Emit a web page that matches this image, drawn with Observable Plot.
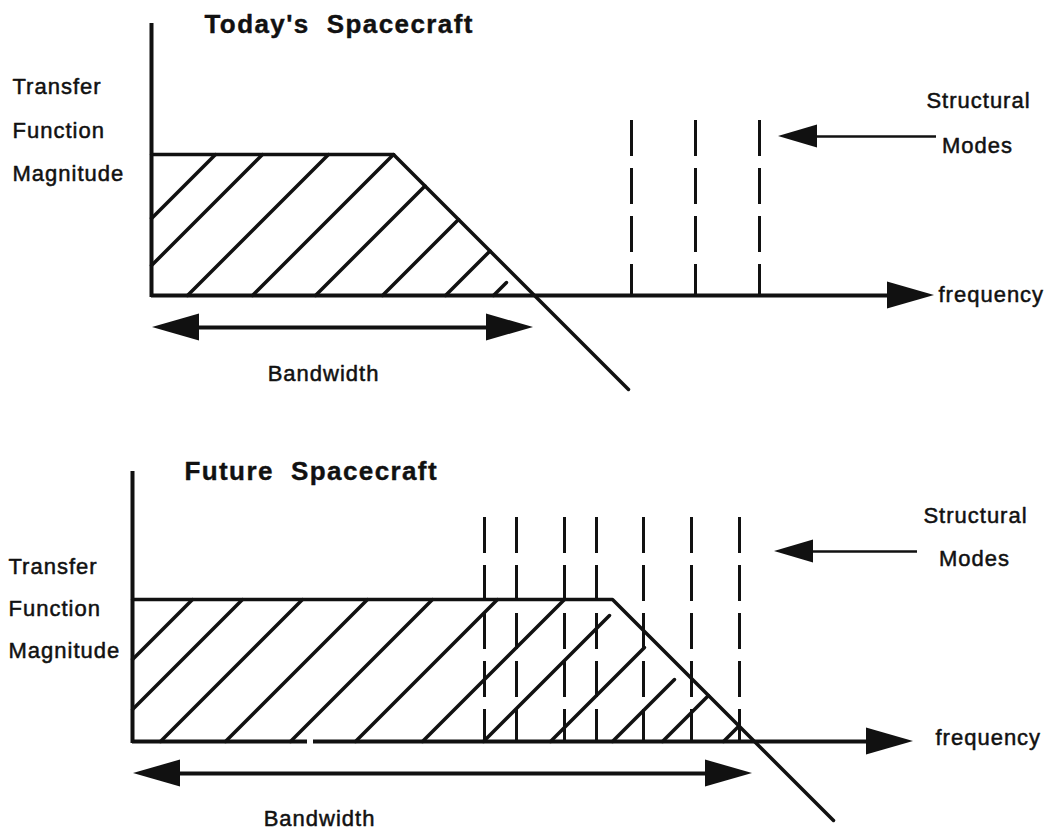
<!DOCTYPE html>
<html>
<head>
<meta charset="utf-8">
<script src="https://cdn.jsdelivr.net/npm/d3@7"></script>
<script src="https://cdn.jsdelivr.net/npm/@observablehq/plot@0.6"></script>
<style>
  body { margin: 0; background: #fff; }
  #chart svg { display: block; }
  #chart svg text { letter-spacing: 1px; }
  #chart svg g[font-weight="bold"] text { letter-spacing: 1.4px; }
</style>
</head>
<body>
<div id="chart"></div>
<script>
// ---- data (frequency / magnitude in diagram units, origin at the axes' corner) ----
const panelTitles = ["Today's\u00a0\u00a0Spacecraft", "Future\u00a0\u00a0Spacecraft"];
const yLabelLines = ["Transfer", "Function", "Magnitude"];
const modesLabelLines = ["Structural", "Modes"];
const xLabel = "frequency";
const bandLabel = "Bandwidth";

const plateauLevel = [141, 142];            // flat pass-band magnitude
const cornerFreq = [242, 480];              // start of roll-off
const rollOffEnd = [[477, -94], [701, -79]];// end of the roll-off line
const modeFreqs = [[480, 544, 608], [352, 384, 432, 464, 511, 559, 607]];
const modeTop = [175, 224];
const axisTop = [272, 270];
const axisEnd = [783, 781];                 // frequency arrow tip
const bandwidthRange = [[1, 382], [1, 620]];
const bandwidthLevel = [-32, -32];
// hatch lines: frequency where each 45° line meets the frequency axis
const hatchStarts = [
  [-77, -30, 36, 101, 164, 231, 294, 342],
  [-82, -32, 28, 93, 158, 223, 290, 351, 418, 480, 530, 591]
];
// hatch lines stopping before the boundary: start -> magnitude where they stop
const hatchStops = [{342: 13}, {351: 126, 418: 94, 480: 62}];
const axisGaps = [[], [[175, 181]]];
const modesArrow = [[627, 159, 785], [642, 190, 785]]; // tip f, level m, tail f

// ---- layout ----
const W = 1054;
const layouts = [
  {h: 417, ox: 151, oy: 295,
   title: [53, 263], yLab: [-139, [202, 158, 115]], modes: [[827, 188], [826, 143]],
   freq: [787, -6], band: [172, -85]},
  {h: 417, ox: 132, oy: 324,
   title: [52, 262], yLab: [-124, [168, 126, 84]], modes: [[843, 219], [842, 176]],
   freq: [803, -3], band: [187, -84]}
];
const ink = "#111";
const headLen = 47, headHalf = 13.5, smallHeadLen = 39, smallHeadHalf = 11.5;

function tri(id, tip, level, dir, len, half) {
  // dir = +1 points right, -1 points left
  return [
    {id, f: tip - dir * len, lo: level - half, hi: level + half},
    {id, f: tip, lo: level, hi: level}
  ];
}

function panel(i) {
  const L = layouts[i];
  const P = plateauLevel[i], C = cornerFreq[i];
  const outline = [{f: 0, m: P}, {f: C, m: P}, {f: rollOffEnd[i][0], m: rollOffEnd[i][1]}];
  const hatch = hatchStarts[i].flatMap((c, k) => {
    const m0 = Math.max(0, -c);
    let m1 = Math.min(P, (C + P - c) / 2);
    if (hatchStops[i][c] != null) m1 = Math.min(m1, hatchStops[i][c]);
    return [{k, f: c + m0, m: m0}, {k, f: c + m1, m: m1}];
  });
  // frequency axis segments (with scan gaps)
  const base = axisEnd[i] - headLen + 2;
  const segs = [];
  let start = 0;
  for (const [a, b] of axisGaps[i]) { segs.push({a: start, b: a}); start = b; }
  segs.push({a: start, b: base});

  const [bw0, bw1] = bandwidthRange[i];
  const bl = bandwidthLevel[i];
  const heads = [
    ...tri("ax", axisEnd[i], 0, 1, headLen, headHalf),
    ...tri("bl", bw0, bl, -1, headLen, headHalf),
    ...tri("br", bw1, bl, 1, headLen, headHalf),
    ...tri("sm", modesArrow[i][0], modesArrow[i][1], -1, smallHeadLen, smallHeadHalf)
  ];
  const yLab = yLabelLines.map((t, j) => ({t, f: L.yLab[0], m: L.yLab[1][j]}));
  const modesLab = modesLabelLines.map((t, j) => ({t, f: L.modes[j][0], m: L.modes[j][1]}));
  const txt = {lineAnchor: "bottom", fontSize: 22, fill: ink, stroke: ink, strokeWidth: 0.5};

  return Plot.plot({
    width: W, height: L.h, margin: 0,
    x: {domain: [-L.ox, W - L.ox], range: [0, W], axis: null},
    y: {domain: [L.oy - L.h, L.oy], range: [L.h, 0], axis: null},
    style: {fontFamily: "'Liberation Sans', Arial, Helvetica, sans-serif", background: "#fff", color: ink},
    marks: [
      Plot.line(hatch, {x: "f", y: "m", z: "k", stroke: ink, strokeWidth: 3.5}),
      Plot.ruleX(modeFreqs[i], {x: d => d, y1: modeTop[i], y2: 0, stroke: ink, strokeWidth: 3, strokeDasharray: "36,12"}),
      Plot.line(outline, {x: "f", y: "m", stroke: ink, strokeWidth: 3.5, strokeLinejoin: "miter"}),
      Plot.ruleY(segs, {x1: "a", x2: "b", y: 0, stroke: ink, strokeWidth: 4}),
      Plot.ruleX([0], {y1: -2, y2: axisTop[i], stroke: ink, strokeWidth: 4}),
      Plot.ruleY([bl], {x1: bw0 + headLen - 2, x2: bw1 - headLen + 2, stroke: ink, strokeWidth: 4}),
      Plot.ruleY([modesArrow[i][1]], {x1: modesArrow[i][0] + smallHeadLen - 2, x2: modesArrow[i][2], stroke: ink, strokeWidth: 2.5}),
      Plot.areaY(heads, {x: "f", y1: "lo", y2: "hi", z: "id", fill: ink}),
      Plot.text([panelTitles[i]], {x: L.title[0], y: L.title[1], text: d => d, textAnchor: "start", lineAnchor: "bottom", fontSize: 26, fontWeight: "bold", fill: ink, stroke: ink, strokeWidth: 0.4}),
      Plot.text(yLab, {x: "f", y: "m", text: "t", textAnchor: "start", ...txt}),
      Plot.text(modesLab, {x: "f", y: "m", text: "t", textAnchor: "middle", ...txt}),
      Plot.text([xLabel], {x: L.freq[0], y: L.freq[1], text: d => d, textAnchor: "start", ...txt}),
      Plot.text([bandLabel], {x: L.band[0], y: L.band[1], text: d => d, textAnchor: "middle", ...txt})
    ]
  });
}

const root = document.getElementById("chart");
root.appendChild(panel(0));
root.appendChild(panel(1));
</script>
</body>
</html>
